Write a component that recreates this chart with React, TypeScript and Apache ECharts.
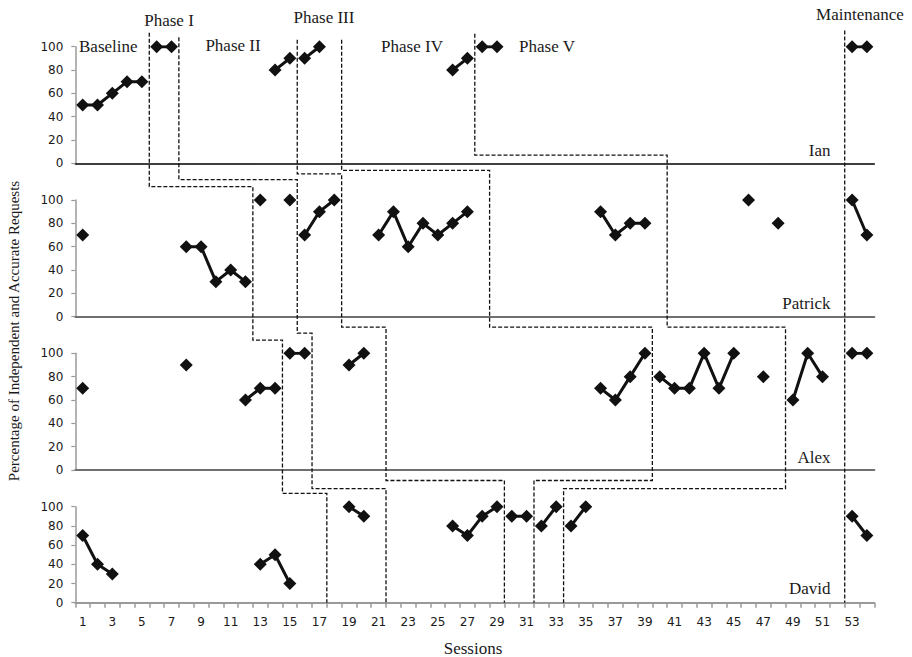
import React, { useEffect, useRef } from "react";
import * as echarts from "echarts";

// ---------- data ----------
const sessions = [
  "1","2","3","4","5","6","7","8","9","10","11","12","13","14","15","16","17","18",
  "19","20","21","22","23","24","25","26","27","28","29","30","31","32","33","34","35","36",
  "37","38","39","40","41","42","43","44","45","46","47","48","49","50","51","52","53","54",
];
const participants = ["Ian", "Patrick", "Alex", "David"];

const ianSessions = [1, 2, 3, 4, 5, 6, 7, 14, 15, 16, 17, 26, 27, 28, 29, 53, 54];
const ianValues = [50, 50, 60, 70, 70, 100, 100, 80, 90, 90, 100, 80, 90, 100, 100, 100, 100];

const patrickSessions = [1, 8, 9, 10, 11, 12, 13, 15, 16, 17, 18, 21, 22, 23, 24, 25, 26, 27, 36, 37, 38, 39, 46, 48, 53, 54];
const patrickValues = [70, 60, 60, 30, 40, 30, 100, 100, 70, 90, 100, 70, 90, 60, 80, 70, 80, 90, 90, 70, 80, 80, 100, 80, 100, 70];

const alexSessions = [1, 8, 12, 13, 14, 15, 16, 19, 20, 36, 37, 38, 39, 40, 41, 42, 43, 44, 45, 47, 49, 50, 51, 53, 54];
const alexValues = [70, 90, 60, 70, 70, 100, 100, 90, 100, 70, 60, 80, 100, 80, 70, 70, 100, 70, 100, 80, 60, 100, 80, 100, 100];

const davidSessions = [1, 2, 3, 13, 14, 15, 19, 20, 26, 27, 28, 29, 30, 31, 32, 33, 34, 35, 53, 54];
const davidValues = [70, 40, 30, 40, 50, 20, 100, 90, 80, 70, 90, 100, 90, 90, 80, 100, 80, 100, 90, 70];

// phase changes (between sessions) for each participant
const ianBreaks = [5.5, 7.5, 15.5, 18.5, 27.5, 52.5];
const patrickBreaks = [12.5, 15.5, 18.5, 28.5, 40.5, 52.5];
const alexBreaks = [14.5, 16.5, 21.5, 39.5, 48.5, 52.5];
const davidBreaks = [17.5, 21.5, 29.5, 31.5, 33.5, 52.5];

const phaseLabels = ["Baseline", "Phase I", "Phase II", "Phase III", "Phase IV", "Phase V", "Maintenance"];

// ---------- layout / style ----------
const GRID_LEFT = 75.3;
const GRID_RIGHT = 37.7;
const panelTops = [46.7, 200, 353.3, 506.7];
const panelHeights = [116.6, 116.7, 116.7, 96];
const zeroLineColors = ["#000000", "#707070", "#707070", "#9a9a9a"];
const zeroLineWidths = [1.5, 2, 2, 2];
// start height of each phase-change line (in Ian's units) and its step heights (in units of the panel above)
const lineTops = [112, 108, 106, 106, 111, 114];
const lineSteps = [
  [-20, -20, -20],
  [-14, -14, -16],
  [-9, -9, -9],
  [-6, -9, -9],
  [7, -9, -16],
  [0, 0, 0],
];
const phaseLabelPos = [
  [79, 46.7, "left"],
  [169, 20, "center"],
  [233, 45.5, "center"],
  [324, 17, "center"],
  [412, 46.5, "center"],
  [547, 46.5, "center"],
  [860, 14, "center"],
];
const nameY = [150, 303.5, 457, 588.5];

const SERIF = "Liberation Serif";
const SANS = "DejaVu Sans";
const TEXT = "#1a1a1a";

function splitRuns(ss: number[], vs: number[], breaks: number[]) {
  const out: number[][][] = [];
  let cur: number[][] = [];
  for (let i = 0; i < ss.length; i++) {
    if (i > 0) {
      const prev = ss[i - 1];
      const crosses = breaks.some((b) => b > prev && b < ss[i]);
      if (ss[i] - prev > 1 || crosses) {
        out.push(cur);
        cur = [];
      }
    }
    cur.push([ss[i], vs[i]]);
  }
  if (cur.length) out.push(cur);
  return out;
}

export default function App() {
  const ref = useRef<HTMLDivElement>(null);

  useEffect(() => {
    if (!ref.current) return;
    const chart = echarts.init(ref.current, null, { renderer: "svg" });

    const allSessions = [ianSessions, patrickSessions, alexSessions, davidSessions];
    const allValues = [ianValues, patrickValues, alexValues, davidValues];
    const allBreaks = [ianBreaks, patrickBreaks, alexBreaks, davidBreaks];

    const grids = panelTops.map((t, p) => ({
      left: GRID_LEFT,
      right: GRID_RIGHT,
      top: t,
      height: panelHeights[p],
    }));

    const xAxes: any[] = [];
    const yAxes: any[] = [];
    participants.forEach((_, p) => {
      xAxes.push({
        type: "category",
        gridIndex: p,
        data: sessions,
        boundaryGap: true,
        axisLine: { show: true, onZero: false, lineStyle: { color: zeroLineColors[p], width: zeroLineWidths[p] } },
        axisTick: { show: p === 3, interval: 0, length: 5, lineStyle: { color: "#9a9a9a", width: 1.5 } },
        axisLabel: { show: p === 3, interval: 1, margin: 13, fontFamily: SANS, fontSize: 12, color: TEXT },
        splitLine: { show: false },
      });
      xAxes.push({ type: "value", gridIndex: p, min: 0.5, max: 54.5, show: false });
      yAxes.push({
        type: "value",
        gridIndex: p,
        min: 0,
        max: 100,
        interval: 20,
        axisLine: { show: true, lineStyle: { color: "#9a9a9a", width: 1.5 } },
        axisTick: { show: true, length: 4, lineStyle: { color: "#9a9a9a", width: 1.2 } },
        axisLabel: { margin: 12, fontFamily: SANS, fontSize: 12, color: TEXT },
        splitLine: { show: false },
      });
    });

    const series: any[] = [];
    participants.forEach((name, p) => {
      splitRuns(allSessions[p], allValues[p], allBreaks[p]).forEach((run, r) => {
        series.push({
          type: "line",
          name: name + "-" + r,
          xAxisIndex: 2 * p + 1,
          yAxisIndex: p,
          data: run,
          symbol: "diamond",
          symbolSize: 13,
          itemStyle: { color: "#111" },
          lineStyle: { color: "#111", width: 3 },
          z: 10,
        });
      });
    });

    chart.setOption({
      animation: false,
      backgroundColor: "#ffffff",
      grid: grids,
      xAxis: xAxes,
      yAxis: yAxes,
      series,
    });

    const pt = (p: number, x: number, y: number) =>
      chart.convertToPixel({ xAxisIndex: 2 * p + 1, yAxisIndex: p } as any, [x, y]) as unknown as number[];

    const elements: any[] = [];
    lineTops.forEach((top, k) => {
      const points: number[][] = [pt(0, allBreaks[0][k], top)];
      for (let p = 0; p < 3; p++) {
        const s = lineSteps[k][p];
        points.push(pt(p, allBreaks[p][k], s));
        points.push(pt(p, allBreaks[p + 1][k], s));
      }
      points.push(pt(3, allBreaks[3][k], 0));
      elements.push({
        type: "polyline",
        silent: true,
        z: 5,
        shape: { points },
        style: { stroke: "#111", lineWidth: 1.3, lineDash: [4, 2], fill: null },
      });
    });

    phaseLabels.forEach((label, i) => {
      const [x, y, align] = phaseLabelPos[i] as [number, number, string];
      elements.push({
        type: "text",
        x,
        y,
        z: 20,
        style: { text: label, fontFamily: SERIF, fontSize: 17, fill: TEXT, align, verticalAlign: "middle" },
      });
    });

    participants.forEach((name, p) => {
      elements.push({
        type: "text",
        x: 830.5,
        y: nameY[p],
        z: 20,
        style: { text: name, fontFamily: SERIF, fontSize: 17, fill: TEXT, align: "right", verticalAlign: "middle" },
      });
    });

    elements.push({
      type: "text",
      x: 473,
      y: 648,
      z: 20,
      style: { text: "Sessions", fontFamily: SERIF, fontSize: 17, fill: TEXT, align: "center", verticalAlign: "middle" },
    });
    elements.push({
      type: "text",
      x: 14,
      y: 331,
      rotation: Math.PI / 2,
      z: 20,
      style: {
        text: "Percentage of Independent and Accurate Requests",
        fontFamily: SERIF,
        fontSize: 15,
        fill: TEXT,
        align: "center",
        verticalAlign: "middle",
      },
    });

    chart.setOption({ graphic: { elements } });

    return () => chart.dispose();
  }, []);

  return <div ref={ref} style={{ position: "absolute", left: 0, top: 0, width: 912, height: 657 }} />;
}
